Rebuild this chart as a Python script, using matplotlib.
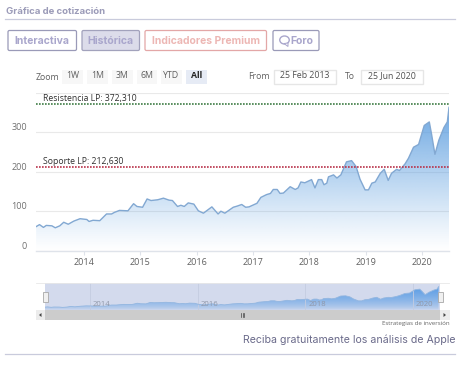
import numpy as np
import matplotlib
matplotlib.use('Agg')
import matplotlib.pyplot as plt
from matplotlib.patches import Rectangle, Ellipse, Polygon, FancyBboxPatch

W, H = 466, 365
years = [2013.15,2013.21,2013.28,2013.33,2013.43,2013.49,2013.57,2013.64,2013.72,2013.82,2013.93,2014.05,2014.09,2014.16,2014.28,2014.40,2014.49,2014.54,2014.63,2014.78,2014.88,2014.94,2015.04,2015.12,2015.19,2015.31,2015.41,2015.51,2015.57,2015.66,2015.72,2015.78,2015.85,2015.95,2016.03,2016.12,2016.27,2016.38,2016.43,2016.50,2016.65,
         2016.72,2016.80,2016.87,2016.93,2017.07,2017.14,2017.24,2017.31,2017.36,2017.43,2017.48,2017.54,2017.66,2017.75,2017.80,2017.85,2017.92,2018.04,2018.10,2018.16,2018.22,2018.26,2018.31,2018.34,2018.43,2018.49,2018.56,2018.66,2018.75,2018.83,2018.90,2018.99,2019.05,2019.11,2019.17,2019.26,2019.33,2019.40,2019.46,2019.55,2019.60,2019.70,2019.76,2019.85,2019.94,2020.04,2020.13,2020.17,2020.23,2020.30,2020.39,2020.45,2020.48]
prices = [61,66,59,64,63,58,63,72,67,75,81,79,74,77,76,93,93,97,102,101,119,112,110,131,127,129,133,128,127,112,115,112,121,118,101,95,111,93,100,95,110,
          113,117,110,111,120,135,142,145,155,155,145,146,162,155,159,174,172,180,159,180,180,167,171,187,192,184,192,225,228,213,181,154,154,171,174,196,206,178,196,206,203,220,234,262,269,317,326,295,244,280,312,326,363]
ytick_vals = [0, 100, 200, 300, 400]
ytick_labels = ['0', '100', '200', '300']
xtick_years = [2014, 2015, 2016, 2017, 2018, 2019, 2020]
nav_years = [2014, 2016, 2018, 2020]
resistance = 372.31
support = 212.63
res_label = 'Resistencia LP: 372,310'
sup_label = 'Soporte LP: 212,630'
range_buttons = ['1W', '1M', '3M', '6M', 'YTD', 'All']
from_date = '25 Feb 2013'
to_date = '25 Jun 2020'

plt.rcParams['font.family'] = ['Open Sans', 'DejaVu Sans']
fig = plt.figure(figsize=(W/100, H/100), dpi=100, facecolor='white')

def pax(x0, y0, x1, y1, **kw):
    return fig.add_axes([x0/W, 1-y1/H, (x1-x0)/W, (y1-y0)/H], **kw)

def gradient_area(ax, xs, ys, ymin, ymax, top, power=1.1):
    c = np.array(matplotlib.colors.to_rgb(top))
    t = np.linspace(1, 0, 200)[:, None]
    img = np.zeros((200, 1, 4))
    img[..., :3] = c
    img[..., 3] = t**power
    xl = ax.get_xlim()
    im = ax.imshow(img, extent=[xl[0], xl[1], ymin, ymax], aspect='auto', zorder=1, interpolation='bilinear')
    poly = Polygon(list(zip(xs, ys)) + [(xs[-1], ymin), (xs[0], ymin)], closed=True, transform=ax.transData, fc='none', ec='none')
    ax.add_patch(poly)
    im.set_clip_path(poly)
    ax.set_xlim(xl)
    ax.set_ylim(ymin, ymax)

# main chart
px_year = 56.33
xl = (2014 + (36-84)/px_year, 2014 + (449-84)/px_year)
ax = pax(36, 92.7, 449, 250.7)
ax.set_xlim(xl); ax.set_ylim(0, 400)
gradient_area(ax, years, prices, 0, 400, '#5b9ddf')
ax.plot(years, prices, color='#82a8d2', lw=1.0, zorder=3, solid_joinstyle='round')
for s in ax.spines.values():
    s.set_visible(False)
ax.spines['bottom'].set_visible(True); ax.spines['bottom'].set_color('#dfe3ea'); ax.spines['bottom'].set_linewidth(1)
ax.set_axisbelow(True)
ax.set_yticks(ytick_vals)
ax.set_yticklabels(ytick_labels + [''], fontsize=6.5, color='#707070')
for lab in ax.get_yticklabels():
    lab.set_verticalalignment('bottom')
ax.tick_params(axis='y', length=0, pad=6.5)
ax.set_xticks(xtick_years)
ax.set_xticklabels([str(y) for y in xtick_years], fontsize=6.5, color='#606060')
ax.tick_params(axis='x', length=3, width=0.8, color='#dfe3ea', pad=2)
ax.grid(axis='y', color='#e9e9e9', lw=0.8, zorder=0)
ax.axhline(resistance, color='#3f7d46', lw=1.2, ls=(0, (1, 0.8)), zorder=4)
ax.axhline(support, color='#b8324a', lw=1.2, ls=(0, (1, 0.8)), zorder=4)
ax.annotate(res_label, (xl[0], resistance), xytext=(7, 0.5), textcoords='offset pixels', fontsize=6.2, color='#303030', va='bottom', zorder=5)
ax.annotate(sup_label, (xl[0], support), xytext=(7, 0.5), textcoords='offset pixels', fontsize=6.2, color='#303030', va='bottom', zorder=5)

# navigator
nav_px = 53.8
nl = (2014 + (45-90)/nav_px, 2014 + (440-90)/nav_px)
nav = pax(45, 283, 440, 310)
nav.set_xlim(nl); nav.set_ylim(20, 416)
nav.set_facecolor('#d3daed')
gradient_area(nav, years, prices, 20, 416, '#4f97e4', power=0.6)
nav.plot(years, prices, color='#93b6e0', lw=0.6, zorder=3)
nav.set_yticks([])
nav.set_xticks(nav_years)
nav.grid(axis='x', color='#c4cce0', lw=0.6)
nav.tick_params(axis='x', length=0, labelbottom=False)
for s in nav.spines.values():
    s.set_visible(False)
for y in nav_years:
    nav.annotate(str(y), (y, 20), xytext=(3, 1.5), textcoords='offset pixels', fontsize=5.6, color='#8f97a8', va='bottom', ha='left', zorder=5)

# page chrome in pixel coordinates
ov = fig.add_axes([0, 0, 1, 1], zorder=10)
ov.set_xlim(0, W); ov.set_ylim(H, 0); ov.axis('off'); ov.patch.set_alpha(0)
UI = ['Inter', 'DejaVu Sans']
ov.text(6, 11, 'Gráfica de cotización', fontsize=6.9, fontweight='bold', color='#9b9bb8', va='center', family=UI)
ov.plot([5, 455], [19, 19], color='#c9cbdc', lw=0.9)
ov.plot([5, 455], [353.5, 353.5], color='#c9cbdc', lw=0.9)

def button(x0, x1, text, ec, fc, tc, tx=None):
    ov.add_patch(FancyBboxPatch((x0, 30.5), x1-x0, 20, boxstyle='round,pad=0,rounding_size=1.5', ec=ec, fc=fc, lw=0.9))
    ov.text((x0+x1)/2 if tx is None else tx, 40.7, text, ha='center', va='center', fontsize=7.5, fontweight='bold', color=tc, family=UI)
button(8, 76.5, 'Interactiva', '#9a9ab8', 'white', '#a9a6cc')
button(82, 139.5, 'Histórica', '#a2a2bc', '#dcdcea', '#a9a6cc')
button(145, 266.5, 'Indicadores Premium', '#e3a7a7', 'white', '#edb7b4')
button(273, 319, 'Foro', '#9a9ab8', 'white', '#a9a6cc', tx=302)
ov.add_patch(Ellipse((284.5, 40), 9.5, 8, fc='none', ec='#a9a6cc', lw=1))
ov.add_patch(Polygon([(284, 43.5), (288, 46.5), (288, 43)], closed=True, fc='white', ec='#a9a6cc', lw=0.7))

ov.text(36, 77, 'Zoom', fontsize=6.3, color='#606060', va='center')
edges = [(62, 83), (87, 108), (112, 133), (137, 157), (161, 182), (186, 207)]
for (a, b), lab in zip(edges, range_buttons):
    active = lab == 'All'
    ov.add_patch(Rectangle((a, 69.5), b-a, 14.5, fc='#e6ebf5' if active else '#f7f7f7', ec='none'))
    ov.text((a+b)/2, 76, lab, ha='center', va='center', fontsize=6.3, color='#222222' if active else '#606060', fontweight='bold' if active else 'normal')
ov.text(248, 76.5, 'From', fontsize=6.3, color='#606060', va='center')
ov.text(344.5, 76.5, 'To', fontsize=6.3, color='#606060', va='center')
for a, b, lab in [(273.5, 336, from_date), (360.5, 423, to_date)]:
    ov.add_patch(Rectangle((a, 69.5), b-a, 14.5, fc='white', ec='#e6e6e6', lw=1))
    ov.text((a+b)/2, 76, lab, ha='center', va='center', fontsize=6.3, color='#505050')

# navigator handles and scrollbar
ov.add_patch(Rectangle((36, 310), 414, 10, fc='#cccccc', ec='none'))
ov.add_patch(Rectangle((36, 310), 9, 10, fc='#ececec', ec='none'))
ov.add_patch(Rectangle((440, 310), 10, 10, fc='#ececec', ec='none'))
ov.add_patch(Polygon([(39, 315), (41.5, 313), (41.5, 317)], closed=True, fc='#444444', ec='none'))
ov.add_patch(Polygon([(446, 315), (443.5, 313), (443.5, 317)], closed=True, fc='#444444', ec='none'))
for dx in (-1.5, 0, 1.5):
    ov.plot([242.5+dx]*2, [313, 317], color='#444444', lw=0.5)
for x in (45.5, 440):
    ov.add_patch(Rectangle((x-2.5, 292), 5, 9.5, fc='#f0f0f0', ec='#a8a8a8', lw=0.6))
ov.plot([36, 449], [283, 283], color='#e8e8e8', lw=0.6)
ov.text(449.5, 324, 'Estrategias de inversión', ha='right', va='center', fontsize=4.4, color='#666666')
ov.text(455.5, 340, 'Reciba gratuitamente los análisis de Apple', ha='right', va='center', fontsize=7.6, color='#6a6a8a', family=UI)

fig.savefig('out.png', dpi=100)
